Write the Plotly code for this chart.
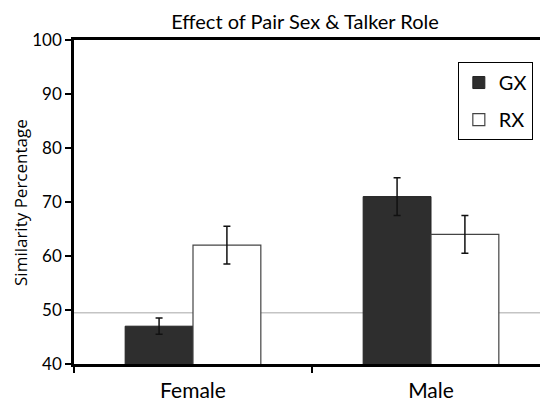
import plotly.graph_objects as go

categories = ["Female", "Male"]
gx_values = [47, 71]
gx_errors = [1.5, 3.5]
rx_values = [62, 64]
rx_errors = [3.5, 3.5]
y_ticks = [40, 50, 60, 70, 80, 90, 100]
chance_level = 49.5

FONT = "Lato"

fig = go.Figure()
fig.add_trace(go.Bar(
    name="GX", x=categories, y=gx_values,
    marker=dict(color="#2e2e2e", line=dict(color="#222222", width=1)),
    error_y=dict(type="data", array=gx_errors, color="#111111", thickness=1.5, width=3.5),
    legendgroup="a",
))
fig.add_trace(go.Bar(
    name="RX", x=categories, y=rx_values,
    marker=dict(color="#ffffff", line=dict(color="#444444", width=1.2)),
    error_y=dict(type="data", array=rx_errors, color="#111111", thickness=1.5, width=3.5),
    legendgroup="b",
))

fig.add_shape(type="line", xref="paper", yref="y", x0=0, x1=1,
              y0=chance_level, y1=chance_level,
              line=dict(color="#c4c4c4", width=1.5), layer="below")

fig.add_annotation(text="Similarity Percentage", xref="paper", yref="paper",
                   x=-0.114, y=0.5, xanchor="center", yanchor="middle",
                   textangle=-90, showarrow=False,
                   font=dict(size=17, family="Open Sans", color="black"))

fig.update_layout(
    width=540, height=399,
    margin=dict(l=66, r=0, t=32, b=43),
    paper_bgcolor="white", plot_bgcolor="white",
    barmode="group", bargap=0.43, bargroupgap=0,
    font=dict(family=FONT, color="black"),
    title=dict(text="Effect of Pair Sex & Talker Role", x=0.55, xref="container",
               xanchor="center", y=0.965, yanchor="middle",
               font=dict(size=20, family=FONT, color="black")),
    showlegend=True,
    legend=dict(x=0.968, xref="paper", y=0.932, yref="paper", xanchor="right", yanchor="top",
                bordercolor="black", borderwidth=1, bgcolor="white",
                font=dict(size=20, family=FONT, color="black"), tracegroupgap=8,
                itemwidth=30),
    xaxis=dict(
        type="category", range=[-0.5, 1.4916],
        showline=True, linecolor="black", linewidth=2.5, mirror=True,
        ticks="outside", tickson="boundaries", ticklen=6, tickwidth=1.5, tickcolor="black",
        tickfont=dict(size=21, family=FONT, color="black"), showgrid=False,
        ticklabelstandoff=6,
    ),
    yaxis=dict(
        range=[40, 100], tickvals=y_ticks, ticktext=[str(v) for v in y_ticks],
        showline=True, linecolor="black", linewidth=2.5, mirror=False,
        ticks="outside", ticklen=6, tickwidth=1.5, tickcolor="black",
        tickfont=dict(size=17, family=FONT, color="black"), showgrid=False, zeroline=False,
    ),
)

fig.write_html("out.html")
